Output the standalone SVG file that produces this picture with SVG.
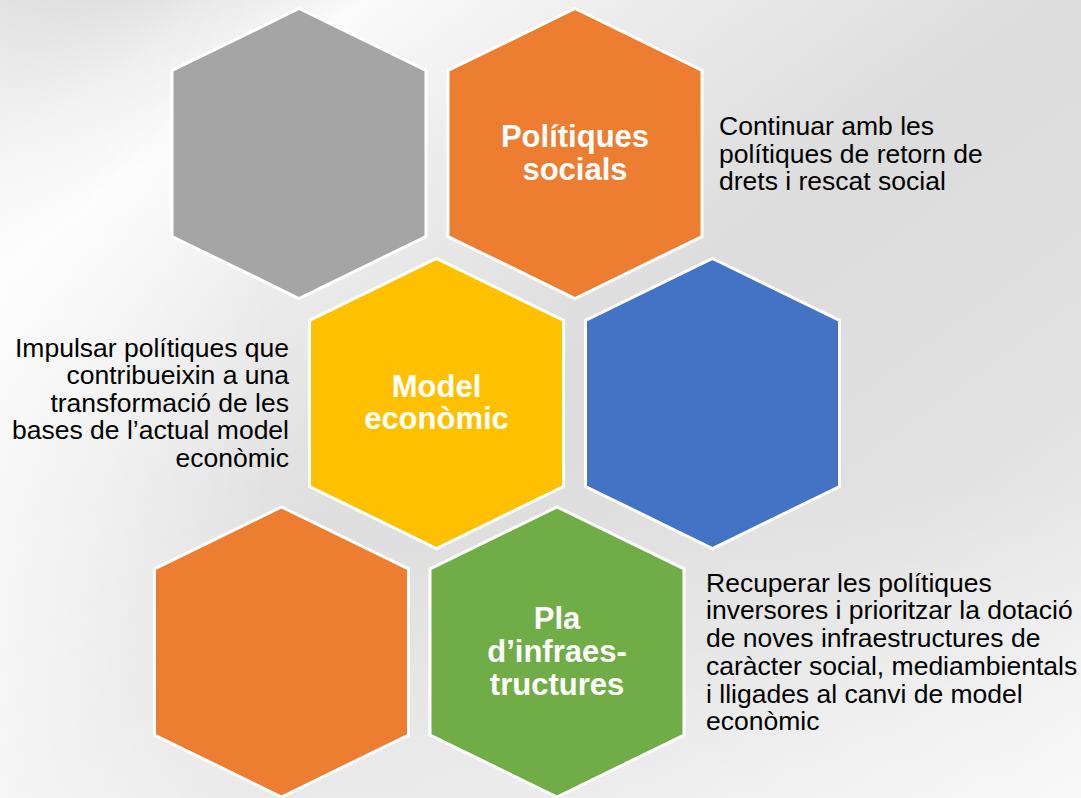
<svg xmlns="http://www.w3.org/2000/svg" xmlns:xlink="http://www.w3.org/1999/xlink" width="1081" height="798" viewBox="0 0 1081 798">
  <style>
    .hex { stroke: #ffffff; stroke-width: 3; stroke-linejoin: miter; }
    .gray { fill: #A5A5A5; }
    .orange { fill: #ED7D31; }
    .yellow { fill: #FFC000; }
    .blue { fill: #4472C4; }
    .green { fill: #70AD47; }
    .title { font-family: "Liberation Sans", Arial, sans-serif; font-weight: bold; font-size: 31px; fill: #ffffff; text-anchor: middle; }
    .desc { font-family: "Liberation Sans", Arial, sans-serif; font-size: 26.5px; fill: #000000; }
  </style>
  <defs>
    <linearGradient id="bg1" x1="0" y1="0" x2="1" y2="1">
      <stop offset="0" stop-color="#b8b8b8"/>
      <stop offset="0.1" stop-color="#e8e8e8"/>
      <stop offset="0.17" stop-color="#fbfbfb"/>
      <stop offset="0.3" stop-color="#ececec"/>
      <stop offset="0.5" stop-color="#dcdcdc"/>
      <stop offset="0.75" stop-color="#e2e2e2"/>
      <stop offset="1" stop-color="#f5f5f5"/>
    </linearGradient>
    <linearGradient id="bg2" x1="0" y1="0" x2="1" y2="0">
      <stop offset="0" stop-color="#ffffff" stop-opacity="0.6"/>
      <stop offset="0.25" stop-color="#ffffff" stop-opacity="0"/>
    </linearGradient>
    <linearGradient id="bg3" x1="0" y1="0" x2="0" y2="1">
      <stop offset="0" stop-color="#ffffff" stop-opacity="0"/>
      <stop offset="0.6" stop-color="#ffffff" stop-opacity="0"/>
      <stop offset="1" stop-color="#ffffff" stop-opacity="0.35"/>
    </linearGradient>
    <polygon id="hex" points="0,-145 127,-83 127,83 0,145 -127,83 -127,-83"/>
  </defs>

  <g id="background">
    <rect x="0" y="0" width="1081" height="798" fill="url(#bg1)"/>
    <rect x="0" y="0" width="1081" height="798" fill="url(#bg2)"/>
    <rect x="0" y="0" width="1081" height="798" fill="url(#bg3)"/>
  </g>

  <g id="connectors"></g>

  <g id="hex-gray">
    <use xlink:href="#hex" class="hex gray" x="299" y="153.5"/>
  </g>

  <g id="hex-politiques-socials">
    <use xlink:href="#hex" class="hex orange" x="575" y="153.5"/>
    <text class="title" x="575" y="147">Polítiques</text>
    <text class="title" x="575" y="180">socials</text>
  </g>

  <g id="hex-model-economic">
    <use xlink:href="#hex" class="hex yellow" x="436.5" y="403.5"/>
    <text class="title" x="436.5" y="397">Model</text>
    <text class="title" x="436.5" y="429">econòmic</text>
  </g>

  <g id="hex-blue">
    <use xlink:href="#hex" class="hex blue" x="712.5" y="403.5"/>
  </g>

  <g id="hex-orange-bottom">
    <use xlink:href="#hex" class="hex orange" x="281.5" y="652"/>
  </g>

  <g id="hex-pla-infraestructures">
    <use xlink:href="#hex" class="hex green" x="557" y="652"/>
    <text class="title" x="557" y="629">Pla</text>
    <text class="title" x="557" y="662">d’infraes-</text>
    <text class="title" x="557" y="695">tructures</text>
  </g>

  <g id="desc-politiques-socials">
    <text class="desc" x="719" y="135">Continuar amb les</text>
    <text class="desc" x="719" y="162.5">polítiques de retorn de</text>
    <text class="desc" x="719" y="190">drets i rescat social</text>
  </g>

  <g id="desc-model-economic" text-anchor="end">
    <text class="desc" x="289" y="356.5" text-anchor="end">Impulsar polítiques que</text>
    <text class="desc" x="289" y="384" text-anchor="end">contribueixin a una</text>
    <text class="desc" x="289" y="411.5" text-anchor="end">transformació de les</text>
    <text class="desc" x="289" y="439" text-anchor="end">bases de l’actual model</text>
    <text class="desc" x="289" y="466.5" text-anchor="end">econòmic</text>
  </g>

  <g id="desc-pla-infraestructures">
    <text class="desc" x="706" y="591.5">Recuperar les polítiques</text>
    <text class="desc" x="706" y="619">inversores i prioritzar la dotació</text>
    <text class="desc" x="706" y="646.5">de noves infraestructures de</text>
    <text class="desc" x="706" y="674.5">caràcter social, mediambientals</text>
    <text class="desc" x="706" y="702.5">i lligades al canvi de model</text>
    <text class="desc" x="706" y="730">econòmic</text>
  </g>
</svg>
